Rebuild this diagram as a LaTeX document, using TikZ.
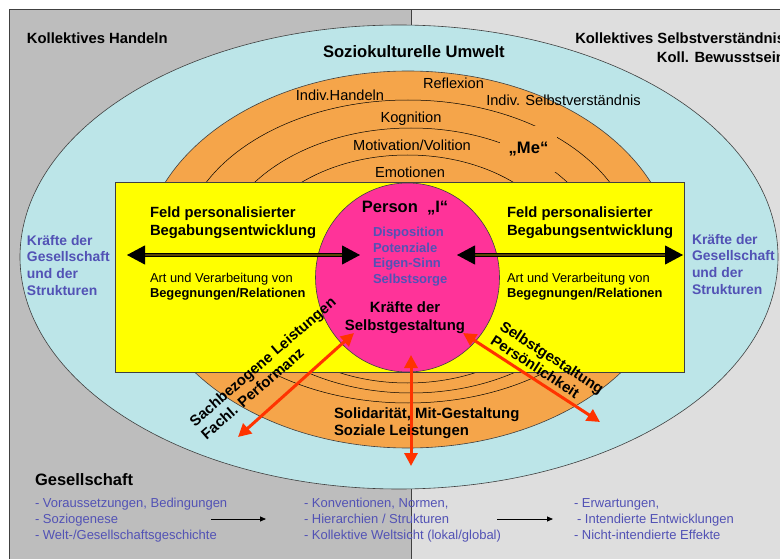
\documentclass[tikz,border=0pt]{standalone}
\usepackage{fontspec}
\setmainfont{Liberation Sans}
\usetikzlibrary{arrows.meta}
\definecolor{lgrey}{HTML}{BDBDBD}
\definecolor{rgrey}{HTML}{DEDEDE}
\definecolor{cyanbg}{HTML}{BCE5E8}
\definecolor{orng}{HTML}{F5A54A}
\definecolor{yel}{HTML}{FFFF00}
\definecolor{mag}{HTML}{FF3399}
\definecolor{blu}{HTML}{5252B5}
\definecolor{redarr}{HTML}{FF3300}
\definecolor{edge}{HTML}{404040}
\definecolor{brn}{HTML}{5A4600}
\begin{document}
\begin{tikzpicture}[x=1pt,y=-1pt,
  lbl/.style={inner sep=0pt, outer sep=0pt},
  bhead/.style={lbl, font=\bfseries\fontsize{14.8}{19}\selectfont},
  ringlbl/.style={lbl, font=\fontsize{14.6}{17}\selectfont, anchor=north},
  feld/.style={lbl, font=\bfseries\fontsize{14.8}{18}\selectfont, align=left, anchor=north west},
  artv/.style={lbl, font=\fontsize{12.9}{15}\selectfont, align=left, anchor=north west},
  kraft/.style={lbl, font=\bfseries\fontsize{13.9}{16.7}\selectfont, text=blu, align=left, anchor=north west},
  rotlbl/.style={lbl, font=\bfseries\fontsize{14.9}{17.5}\selectfont, align=left, anchor=north west},
  botlbl/.style={lbl, font=\fontsize{13}{16}\selectfont, text=blu, align=left, anchor=north west},
  dblarrow/.style={line width=0.9pt, double=brn, double distance=1.6pt, {Triangle[length=18pt,width=19pt]}-{Triangle[length=18pt,width=19pt]}},
  redarrow/.style={redarr, line width=3pt, {Triangle[length=13pt,width=13pt]}-{Triangle[length=13pt,width=13pt]}},
  thinarrow/.style={line width=0.8pt, -{Triangle[length=6pt,width=5pt]}},
  outline/.style={draw=edge, line width=0.6pt},
  ringline/.style={draw=black, line width=0.5pt},
]
\useasboundingbox (0,0) rectangle (780,559);
\fill[white] (0,0) rectangle (780,559);
% background panels
\fill[lgrey] (9.5,9.5) rectangle (411,559);
\fill[rgrey] (411,9.5) rectangle (780,559);
\draw[outline] (9.5,559) -- (9.5,9.5) -- (780,9.5);
\draw[outline] (411,9.5) -- (411,559);
% ellipses
\path[fill=cyanbg, outline] (399,257) ellipse [x radius=379pt, y radius=232pt];
\path[fill=orng, outline] (408,259.5) ellipse [x radius=266pt, y radius=188.5pt];
\path[ringline] (408,251.5) ellipse [x radius=226.7pt, y radius=151.5pt];
\path[ringline] (411,260.5) ellipse [x radius=193.6pt, y radius=132.5pt];
\path[ringline] (407.5,269) ellipse [x radius=163pt, y radius=114pt];
% Me box
\node[lbl, fill=orng, minimum width=57pt, minimum height=46pt, font=\bfseries\fontsize{16.6}{19}\selectfont] (me) at (528.5,149) {„Me“};
% ring labels
\node[ringlbl] (reflexion) at (453.5,77.7) {Reflexion};
\node[ringlbl] (ihandeln) at (340,89.7) {Indiv.Handeln};
\node[ringlbl] (iselbst) at (563.5,94.7) {Indiv. Selbstverständnis};
\node[ringlbl] (kognition) at (411,111.7) {Kognition};
\node[ringlbl] (motivation) at (412,139.7) {Motivation/Volition};
\node[ringlbl] (emotionen) at (410,166.7) {Emotionen};
% yellow field
\path[fill=yel, outline] (115,182.5) rectangle (684,372);
% person circle
\path[fill=mag, outline] (407.5,277.5) ellipse [x radius=92pt, y radius=94.5pt];
% headers
\node[bhead, anchor=north west] (kh) at (27,32.7) {Kollektives Handeln};
\node[lbl, anchor=north west, font=\bfseries\fontsize{16.6}{19}\selectfont] (umwelt) at (323,45) {Soziokulturelle Umwelt};
\node[bhead, anchor=north east, align=right] (ks) at (785,32.7) {Kollektives Selbstverständnis\\Koll. Bewusstsein};
% field texts
\node[feld] (feldl) at (150,206.7) {Feld personalisierter\\Begabungsentwicklung};
\node[feld] (feldr) at (507,206.7) {Feld personalisierter\\Begabungsentwicklung};
\node[artv] (artl) at (150,273.4) {Art und Verarbeitung von\\\textbf{Begegnungen/Relationen}};
\node[artv] (artr) at (507,273.4) {Art und Verarbeitung von\\\textbf{Begegnungen/Relationen}};
\node[kraft] (kgl) at (27,235) {Kräfte der\\Gesellschaft\\und der\\Strukturen};
\node[kraft] (kgr) at (692,234) {Kräfte der\\Gesellschaft\\und der\\Strukturen};
% person texts
\node[lbl, anchor=north, font=\bfseries\fontsize{16.5}{19}\selectfont] (person) at (405,201.1) {Person\ \ „I“};
\node[lbl, anchor=north west, align=left, text=blu, font=\bfseries\fontsize{13}{15.6}\selectfont] (dispo) at (373,227.3) {Disposition\\Potenziale\\Eigen-Sinn\\Selbstsorge};
\node[lbl, anchor=north, align=center, font=\bfseries\fontsize{14.9}{18}\selectfont] (ksg) at (405,301.6) {Kräfte der\\Selbstgestaltung};
% arrows
\coordinate (al1) at (127,255);
\coordinate (al2) at (360,255);
\coordinate (ar1) at (457,255);
\coordinate (ar2) at (683,255);
\draw[dblarrow] (al1) -- (al2);
\draw[dblarrow] (ar1) -- (ar2);
\coordinate (p1) at (354,333);
\coordinate (q1) at (238,437);
\coordinate (p2) at (411,355);
\coordinate (q2) at (411,466);
\coordinate (p3) at (463,333);
\coordinate (q3) at (600,422);
\draw[redarrow] (p1) -- (q1);
\draw[redarrow] (p2) -- (q2);
\draw[redarrow] (p3) -- (q3);
% rotated texts
\node[rotlbl, rotate=41] (sach) at (188,419) {Sachbezogene Leistungen\\Fachl. Performanz};
\node[rotlbl, rotate=-33, font=\bfseries\fontsize{14.9}{17}\selectfont] (selbstg) at (504.8,320) {Selbstgestaltung\\Persönlichkeit};
\node[lbl, anchor=north west, align=left, font=\bfseries\fontsize{14.9}{17}\selectfont] (solid) at (334,407.6) {Solidarität, Mit-Gestaltung\\Soziale Leistungen};
% bottom
\node[lbl, anchor=north west, font=\bfseries\fontsize{16.5}{19}\selectfont] (ges) at (35,473.1) {Gesellschaft};
\node[botlbl] (c1) at (35,498.3) {- Voraussetzungen, Bedingungen\\- Soziogenese\\- Welt-/Gesellschaftsgeschichte};
\node[botlbl] (c2) at (304,498.3) {- Konventionen, Normen,\\- Hierarchien / Strukturen\\- Kollektive Weltsicht (lokal/global)};
\node[botlbl] (c3) at (574,498.3) {- Erwartungen,\\\hspace*{3pt}- Intendierte Entwicklungen\\- Nicht-intendierte Effekte};
\coordinate (b1) at (211,519);
\coordinate (b2) at (266,519);
\coordinate (b3) at (497,519);
\coordinate (b4) at (553,519);
\draw[thinarrow] (b1) -- (b2);
\draw[thinarrow] (b3) -- (b4);
\end{tikzpicture}
\end{document}
